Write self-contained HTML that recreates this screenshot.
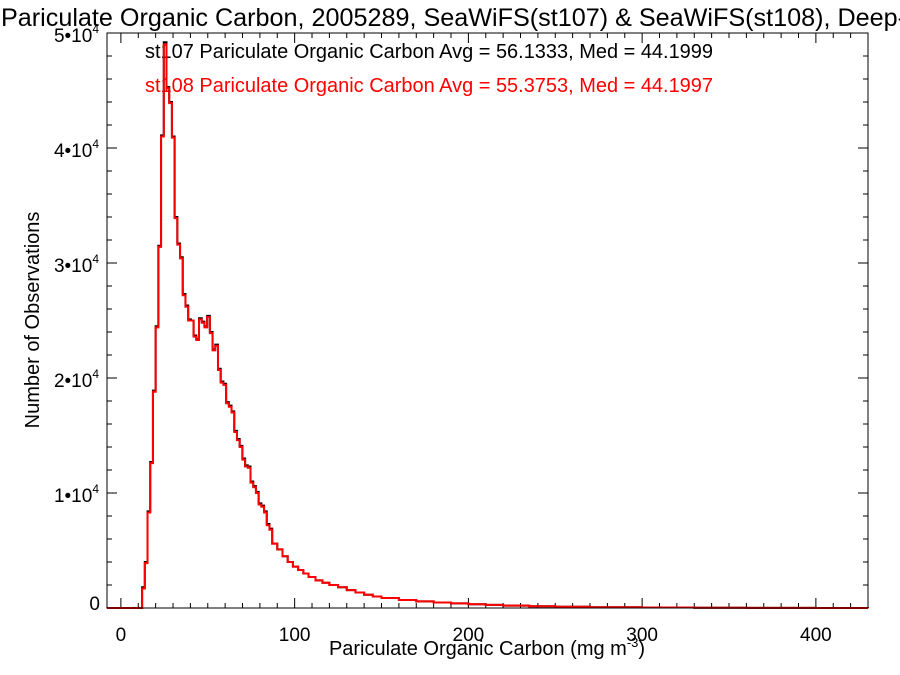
<!DOCTYPE html>
<html><head><meta charset="utf-8"><style>
body{margin:0;background:#fff}
svg{display:block;font-family:"Liberation Sans",Helvetica,sans-serif}
</style></head><body>
<svg id="chart" width="900" height="675" viewBox="0 0 900 675" xmlns="http://www.w3.org/2000/svg">
<text x="1" y="26" font-size="25" fill="#000" textLength="905" lengthAdjust="spacingAndGlyphs">Pariculate Organic Carbon, 2005289, SeaWiFS(st107) &amp; SeaWiFS(st108), Deep-</text>
<text x="145" y="58" font-size="20" fill="#000" textLength="568" lengthAdjust="spacingAndGlyphs">st107 Pariculate Organic Carbon Avg = 56.1333, Med = 44.1999</text>
<text x="145" y="92" font-size="20" fill="#ff0000" textLength="568" lengthAdjust="spacingAndGlyphs">st108 Pariculate Organic Carbon Avg = 55.3753, Med = 44.1997</text>
<text x="487" y="655" font-size="20" text-anchor="middle">Pariculate Organic Carbon (mg m<tspan font-size="13" dy="-8">-3</tspan><tspan dy="8">)</tspan></text>
<text transform="translate(39,320) rotate(-90)" font-size="20" text-anchor="middle">Number of Observations</text>
<g id="axes"></g>
<g id="series"></g>
<rect x="107" y="33" width="761" height="575" fill="none" stroke="#000" stroke-width="1"/>
</svg>
<script>
const xTicks=[0,100,200,300,400];
const yTicks=[0,10000,20000,30000,40000,50000];
const yTickLabels=["0","1•10","2•10","3•10","4•10","5•10"];
const binStart=12.2;
const binWidth=1.56;
const st108Counts=[1700,3900,8300,12600,18800,24400,31400,41000,49000,45200,43900,40900,33900,31600,30400,27200,26200,25000,25000,23600,23300,25100,24800,24400,25300,23900,22400,22800,20700,19600,19400,17800,17500,17000,15300,14600,14000,12900,12300,12200,10900,10500,10000,9000,8800,8300,7200,6800];
const st107Counts=[1800,4000,8400,12700,18900,24500,31500,41100,49200,45300,44000,41000,34000,31700,30500,27300,26300,25100,25000,23700,23400,25200,24900,24500,25400,24000,22500,22900,20800,19700,19500,17900,17600,17100,15400,14700,14100,13000,12400,12300,11000,10600,10100,9100,8900,8400,7300,6900];
const tailEdges=[87.1,90,93,96,99,102,105,108,112,116,120,125,130,135,140,145,150,160,170,180,190,200,210,220,235,250,270,300,330,360,400,430];
const tailCounts=[5600,5100,4500,4000,3600,3300,3000,2700,2400,2200,2000,1800,1550,1350,1150,1000,870,700,580,480,400,330,270,210,150,110,70,40,20,8,3];

const X0=107,X1=868,Y0=608,Y1=33,xmin=-8,xmax=430,ymin=0,ymax=50000;
const sx=v=>X0+(v-xmin)/(xmax-xmin)*(X1-X0);
const sy=v=>Y0-(v-ymin)/(ymax-ymin)*(Y0-Y1);
const NS="http://www.w3.org/2000/svg";
const axes=document.getElementById('axes'),series=document.getElementById('series');
function mk(tag,attrs,parent){const e=document.createElementNS(NS,tag);for(const k in attrs)e.setAttribute(k,attrs[k]);parent.appendChild(e);return e;}

for(let v=0;v<=xmax;v+=10){
  const major=v%100===0,len=major?10:5,x=sx(v);
  const t=mk('line',{x1:x,x2:x,y1:Y0,y2:Y0-len,stroke:'#000'},axes);
  
  
  const t2=mk('line',{x1:x,x2:x,y1:Y1,y2:Y1+len,stroke:'#000'},axes);
  
  
}
xTicks.forEach(v=>{
  const t=mk('text',{x:sx(v),y:Y0+33,'font-size':19,'text-anchor':'middle'},axes);
  t.textContent=v;
  
  
});
for(let v=0;v<=ymax;v+=2000){
  const major=v%10000===0,len=major?10:5,y=sy(v);
  const t=mk('line',{x1:X0,x2:X0+len,y1:y,y2:y,stroke:'#000'},axes);
  
  
  const t2=mk('line',{x1:X1,x2:X1-len,y1:y,y2:y,stroke:'#000'},axes);
  
  
}
yTicks.forEach((v,i)=>{
  const t=mk('text',{x:X0-7,y:sy(v)+2,'font-size':19,'text-anchor':'end'},axes);
  if(i===0){t.textContent=yTickLabels[i];}
  else{t.textContent=yTickLabels[i];const s=mk('tspan',{'font-size':12,dy:-9},t);s.textContent='4';t.setAttribute('x',X0-8);t.setAttribute('y',sy(v)+9);}
  
  
});

function stepPath(counts){
  let d='M'+sx(xmin)+','+sy(0)+' L'+sx(binStart)+','+sy(0);
  counts.forEach((c,i)=>{const x=sx(binStart+i*binWidth);d+=' L'+x+','+sy(c)+' L'+sx(binStart+(i+1)*binWidth)+','+sy(c);});
  tailCounts.forEach((c,i)=>{d+=' L'+sx(tailEdges[i])+','+sy(c)+' L'+sx(tailEdges[i+1])+','+sy(c);});
  d+=' L'+sx(tailEdges[tailEdges.length-1])+','+sy(0)+' L'+sx(xmax)+','+sy(0);
  return d;
}
const p1=mk('path',{d:stepPath(st107Counts),fill:'none',stroke:'#000','stroke-width':2},series);


const p2=mk('path',{d:stepPath(st108Counts),fill:'none',stroke:'#ff0000','stroke-width':2},series);


</script>
</body></html>
